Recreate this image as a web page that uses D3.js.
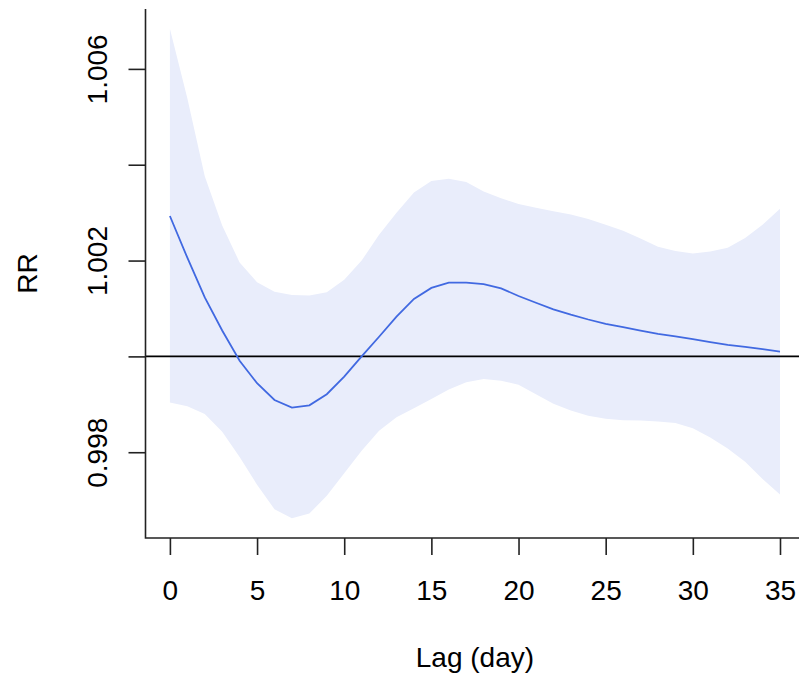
<!DOCTYPE html>
<html>
<head>
<meta charset="utf-8">
<script src="https://cdn.jsdelivr.net/npm/d3@7"></script>
<style>
  body { margin: 0; background: #fff; }
  svg text { font-family: "Liberation Sans", Arial, sans-serif; fill: #000; }
</style>
</head>
<body>
<div id="chart"></div>
<script>
const width = 799;
const height = 679;

// lag (days) and estimated relative risk with its confidence band
const lags = d3.range(0, 36);
const rr = [1.00293, 1.00206, 1.00123, 1.00054, 0.99991, 0.99944, 0.99909, 0.99893, 0.99898, 0.99921,
  0.99958, 1.00000, 1.00041, 1.00083, 1.00120, 1.00143, 1.00154, 1.00154, 1.00151, 1.00142,
  1.00126, 1.00112, 1.00098, 1.00087, 1.00077, 1.00068, 1.00061, 1.00054, 1.00047, 1.00042,
  1.00036, 1.00030, 1.00024, 1.00020, 1.00015, 1.00010];
const rrHigh = [1.00684, 1.00539, 1.00376, 1.00273, 1.00196, 1.00155, 1.00135, 1.00128, 1.00127, 1.00134,
  1.00160, 1.00200, 1.00254, 1.00300, 1.00342, 1.00366, 1.00371, 1.00364, 1.00344, 1.00330,
  1.00318, 1.00310, 1.00303, 1.00296, 1.00287, 1.00275, 1.00262, 1.00246, 1.00229, 1.00220,
  1.00215, 1.00219, 1.00227, 1.00247, 1.00275, 1.00308];
const rrLow = [0.99904, 0.99896, 0.99880, 0.99843, 0.99790, 0.99732, 0.99681, 0.99662, 0.99672, 0.99709,
  0.99756, 0.99803, 0.99845, 0.99873, 0.99892, 0.99911, 0.99931, 0.99946, 0.99953, 0.99949,
  0.99941, 0.99921, 0.99901, 0.99887, 0.99876, 0.99870, 0.99867, 0.99866, 0.99864, 0.99861,
  0.99850, 0.99831, 0.99808, 0.99780, 0.99744, 0.99712];

const xTicks = [0, 5, 10, 15, 20, 25, 30, 35];
const yTicks = [0.998, 1.000, 1.002, 1.004, 1.006];
const yLabelled = [0.998, 1.002, 1.006];

const data = lags.map((lag, i) => ({lag, fit: rr[i], low: rrLow[i], high: rrHigh[i]}));

const svg = d3.select('#chart')
  .append('svg')
  .attr('width', width)
  .attr('height', height);

// plot region (R style: 4% padding on each side of the data range)
const plotLeft = 145.5, plotRight = 804.4, plotTop = 9, plotBottom = 538;
const xscale = d3.scaleLinear().domain([-1.4, 36.4]).range([plotLeft, plotRight]);
const yscale = d3.scaleLinear().domain([0.99621, 1.00725]).range([plotBottom, plotTop]);

svg.append('clipPath').attr('id', 'plot-clip')
  .append('rect')
  .attr('x', plotLeft).attr('y', plotTop)
  .attr('width', plotRight - plotLeft).attr('height', plotBottom - plotTop);

const plot = svg.append('g').attr('clip-path', 'url(#plot-clip)');

// confidence band
const band = d3.area()
  .x(d => xscale(d.lag))
  .y0(d => yscale(d.low))
  .y1(d => yscale(d.high));
plot.append('path')
  .datum(data)
  .attr('d', band)
  .attr('fill', '#e9edfb');

// reference line at RR = 1
plot.append('line')
  .attr('x1', plotLeft).attr('x2', plotRight)
  .attr('y1', yscale(1)).attr('y2', yscale(1))
  .attr('stroke', '#000')
  .attr('stroke-width', 1.6);

// fitted curve
const fitLine = d3.line()
  .x(d => xscale(d.lag))
  .y(d => yscale(d.fit));
plot.append('path')
  .datum(data)
  .attr('d', fitLine)
  .attr('fill', 'none')
  .attr('stroke', '#4169e1')
  .attr('stroke-width', 1.8);

// L-shaped box
svg.append('path')
  .attr('d', `M${plotLeft},${plotTop}V${plotBottom}H${width}`)
  .attr('fill', 'none')
  .attr('stroke', '#222')
  .attr('stroke-width', 1.6);

// x axis
const xaxis = d3.axisBottom(xscale)
  .tickValues(xTicks)
  .tickSize(17)
  .tickFormat(d3.format('d'));
const gx = svg.append('g')
  .attr('transform', `translate(0,${plotBottom})`)
  .call(xaxis);
gx.select('.domain').remove();
gx.selectAll('line').attr('stroke', '#222').attr('stroke-width', 1.6);
gx.selectAll('text').attr('font-size', 28).attr('dy', null).attr('y', 62);

// y axis (rotated labels, only where they fit)
const yaxis = d3.axisLeft(yscale)
  .tickValues(yTicks)
  .tickSize(17)
  .tickFormat(d => yLabelled.includes(+d.toFixed(3)) ? d3.format('.3f')(d) : '');
const gy = svg.append('g')
  .attr('transform', `translate(${plotLeft},0)`)
  .call(yaxis);
gy.select('.domain').remove();
gy.selectAll('line').attr('stroke', '#222').attr('stroke-width', 1.6);
gy.selectAll('text')
  .attr('font-size', 28)
  .attr('x', null).attr('dy', null)
  .attr('text-anchor', 'middle')
  .attr('transform', 'translate(-39,0) rotate(-90)');

// axis titles
svg.append('text')
  .attr('x', (plotLeft + plotRight) / 2)
  .attr('y', 667)
  .attr('text-anchor', 'middle')
  .attr('font-size', 28)
  .text('Lag (day)');

svg.append('text')
  .attr('transform', `translate(37,${(plotTop + plotBottom) / 2}) rotate(-90)`)
  .attr('text-anchor', 'middle')
  .attr('font-size', 28)
  .text('RR');
</script>
</body>
</html>
